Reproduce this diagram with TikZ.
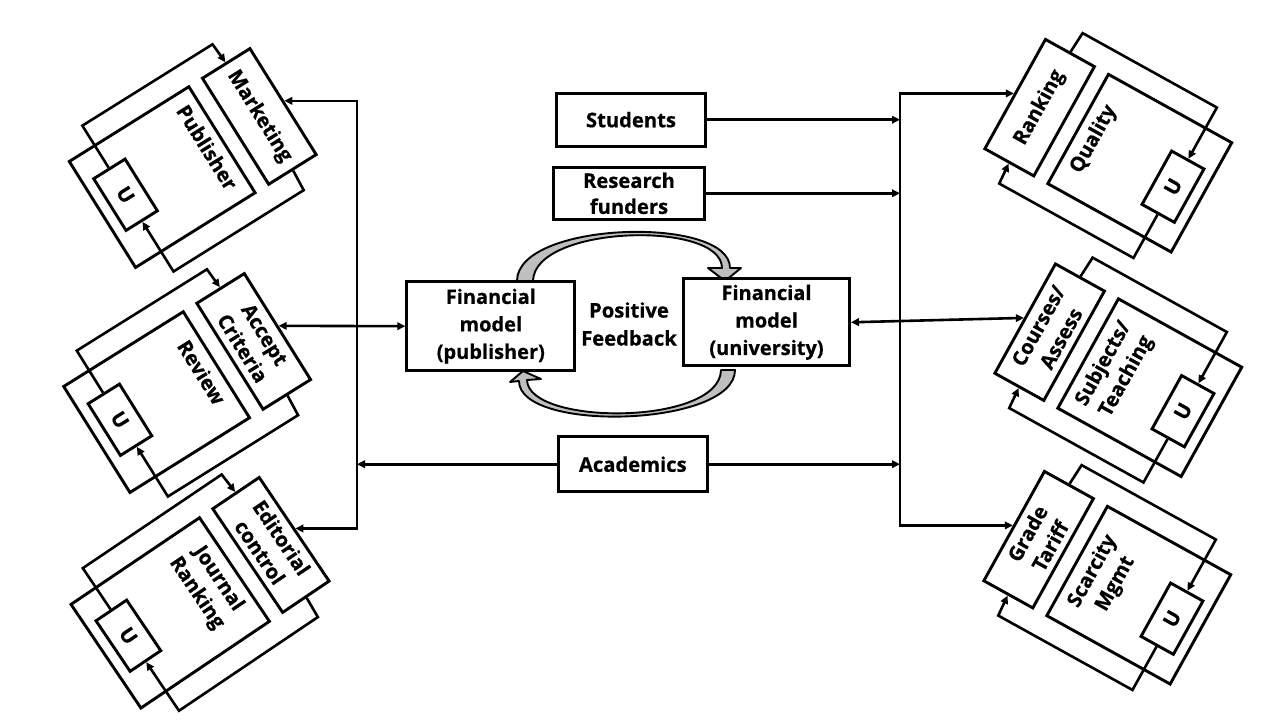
\documentclass[tikz,border=0pt]{standalone}
\usepackage{fontspec}
\setmainfont{Open Sans}[BoldFeatures={FakeBold=0.6}]
\usetikzlibrary{arrows.meta}
\tikzset{
  lbl/.style={font=\bfseries\fontsize{20.2}{26}\selectfont, align=center},
  bx/.style={draw, line width=2.9pt, inner sep=0pt, fill=white, lbl},
  conn/.style={line width=2.6pt, -{Triangle[length=8pt,width=7.5pt]}},
  both/.style={line width=2.6pt, {Triangle[length=8pt,width=7.5pt]}-{Triangle[length=8pt,width=7.5pt]}},
  curv/.style={fill=black!25, draw=black, line width=1.9pt, line join=round},
}
% #1 shift, #2 rotation, #3 main height, #4 main label, #5 top label, #6 name
\newcommand\fbunit[6]{%
\begin{scope}[shift={#1}, rotate=#2, every node/.append style={transform shape}]
  \node[bx, minimum width=125pt, minimum height=#3pt, anchor=south west] (#6m) at (0,0) {};
  \node[lbl, inner sep=0pt, anchor=north] (#6l) at (62.5,#3-7) {#4};
  \node[bx, minimum width=125pt, minimum height=56pt, anchor=south west] (#6t) at (0,#3+16) {#5};
  \node[bx, minimum width=61pt, minimum height=37pt] (#6u) at (59.5,31.5) {U};
  \draw[conn] (#6u.west) -- (-22,31.5) -- (-22,#3+44) -- (#6t.west);
  \draw[conn] (#6t.east) -- (150,#3+44) -- (150,31.5) -- (#6u.east);
\end{scope}}
\begin{document}
\begin{tikzpicture}[x=1pt,y=1pt]
\fill[white] (0,0) rectangle (1280,-720);
\useasboundingbox (0,0) rectangle (1280,-720);

% curved feedback arrows
\path[curv] (517,-281) .. controls (517,-221) and (730,-215) .. (730,-268)
  -- (741,-268) -- (725,-281) -- (708,-268) -- (722,-268)
  .. controls (722,-220) and (534,-225) .. (533,-281) -- cycle;
\path[curv] (735,-370) .. controls (735,-427) and (519,-433) .. (519,-381)
  -- (510,-382) -- (523,-371) -- (541,-379) -- (527,-380)
  .. controls (528,-426) and (720,-426) .. (721,-370) -- cycle;

% central boxes
\node[bx, minimum width=149pt, minimum height=53pt] (stu) at (631,-119.7) {Students};
\node[bx, minimum width=151pt, minimum height=52pt] (rf) at (629,-193.3) {Research\\funders};
\node[bx, minimum width=168pt, minimum height=89pt, font=\bfseries\fontsize{20}{27.5}\selectfont] (fpub) at (490.8,-326.2) {Financial\\model\\(publisher)};
\node[bx, minimum width=166pt, minimum height=87pt, font=\bfseries\fontsize{20}{27.5}\selectfont] (funi) at (766.5,-322.3) {Financial\\model\\(university)};
\node[lbl, font=\bfseries\fontsize{20.2}{28}\selectfont] (pf) at (629,-324) {Positive\\Feedback};
\node[bx, minimum width=149pt, minimum height=55pt] (acad) at (632.8,-464.2) {Academics};

% units
\fbunit{(67.3,-161)}{-58}{141}{Publisher}{Marketing}{La}
\fbunit{(61.7,-386)}{-58}{141}{Review}{Accept\\Criteria}{Lb}
\fbunit{(69,-604)}{-56}{155}{Journal\\Ranking}{Editorial\\control}{Lc}
\fbunit{(1171.7,-254)}{61}{141}{Quality}{Ranking}{Ra}
\fbunit{(1181.7,-478.5)}{61}{141}{Subjects/\\Teaching}{Courses/\\Assess}{Rb}
\fbunit{(1170.7,-686)}{61}{141}{Scarcity\\Mgmt}{Grade\\Tariff}{Rc}

% buses
\coordinate (lbus) at (357,0);
\coordinate (rbus) at (900,0);
\draw[both] (Lat.north) -- (Lat.north -| lbus) -- (Lct.north -| lbus) -- (Lct.north);
\draw[both] (Rat.north) -- (Rat.north -| rbus) -- (Rct.north -| rbus) -- (Rct.north);

% connectors
\draw[conn] (stu.east) -- (stu.east -| rbus);
\draw[conn] (rf.east) -- (rf.east -| rbus);
\draw[conn] (acad.west) -- (acad.west -| lbus);
\draw[conn] (acad.east) -- (acad.east -| rbus);
\draw[both] (fpub.west) -- (Lbt.north);
\draw[both] (funi.east) -- (Rbt.north);
\end{tikzpicture}
\end{document}
